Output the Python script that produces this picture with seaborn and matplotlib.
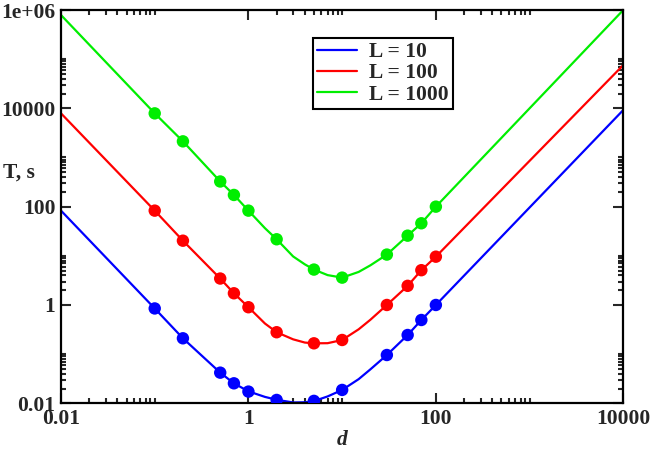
import numpy as np
import pandas as pd
import seaborn as sns
import matplotlib.pyplot as plt
from matplotlib.ticker import FixedLocator, NullFormatter
from matplotlib.lines import Line2D

# smooth curves
d_line = [0.01, 0.1, 0.2, 0.5, 0.7, 1, 1.5, 2, 3, 4, 5, 7, 10, 15, 20, 30, 50, 70, 100, 10000]
T_line_10 = [83, 0.85, 0.21, 0.042, 0.0255, 0.0175, 0.0135, 0.0118, 0.0104, 0.0105, 0.0111, 0.0138,
             0.0187, 0.031, 0.049, 0.096, 0.245, 0.495, 1.0, 9250]
T_line_100 = [7900, 83, 20.3, 3.45, 1.73, 0.9, 0.42, 0.279, 0.2, 0.172, 0.166, 0.167,
              0.194, 0.32, 0.5, 1.0, 2.45, 5.1, 9.6, 76000]
T_line_1000 = [790000, 7900, 2130, 325, 173, 83, 36.5, 21.7, 9.7, 6.7, 5.25, 4.05,
               3.6, 4.7, 6.4, 10.6, 25.7, 45.9, 100, 1000000]

# computed points (markers)
d_pts = [0.1, 0.2, 0.5, 0.7, 1, 2, 5, 10, 30, 50, 70, 100]
T_pts_10 = [0.85, 0.21, 0.042, 0.0255, 0.0173, 0.0117, 0.0112, 0.0187, 0.096, 0.245, 0.495, 1.0]
T_pts_100 = [83, 20.3, 3.45, 1.73, 0.9, 0.279, 0.166, 0.194, 1.0, 2.45, 5.1, 9.6]
T_pts_1000 = [7900, 2130, 325, 173, 83, 21.7, 5.25, 3.6, 10.6, 25.7, 45.9, 100]

labels = ['L = 10', 'L = 100', 'L = 1000']
colors = ['#0000ff', '#ff0000', '#00ee00']

lines = pd.DataFrame({
    'd': d_line * 3,
    'T': T_line_10 + T_line_100 + T_line_1000,
    'L': [labels[0]] * len(d_line) + [labels[1]] * len(d_line) + [labels[2]] * len(d_line),
})
pts = pd.DataFrame({
    'd': d_pts * 3,
    'T': T_pts_10 + T_pts_100 + T_pts_1000,
    'L': [labels[0]] * len(d_pts) + [labels[1]] * len(d_pts) + [labels[2]] * len(d_pts),
})

sns.set_style('ticks')
plt.rcParams['font.family'] = ['Liberation Serif', 'DejaVu Serif']
plt.rcParams['font.weight'] = 'bold'

fig, ax = plt.subplots(figsize=(6.5, 4.49), dpi=100)
fig.subplots_adjust(left=61/650, right=623.3/650, bottom=1-403.3/449, top=1-10/449)
ax.set_xscale('log')
ax.set_yscale('log')

pal = dict(zip(labels, colors))
sns.lineplot(data=lines, x='d', y='T', hue='L', palette=pal, estimator=None,
             sort=False, linewidth=1.6, legend=False, ax=ax)
sns.scatterplot(data=pts, x='d', y='T', hue='L', palette=pal, s=80,
                edgecolor='none', legend=False, ax=ax, zorder=3)

ax.set_xlim(0.01, 10000)
ax.set_ylim(0.01, 1e6)

xmaj = [0.01, 1, 100, 10000]
ymaj = [0.01, 1, 100, 10000, 1e6]
ax.xaxis.set_major_locator(FixedLocator(xmaj))
ax.yaxis.set_major_locator(FixedLocator(ymaj))
ax.set_xticklabels(['0.01', '1', '100', '10000'])
ax.set_yticklabels(['0.01', '1', '100', '10000', '1e+06'])
ax.xaxis.set_minor_locator(FixedLocator([m * 10.0**e for e in (-2, 0, 2) for m in range(2, 11)]))
ax.yaxis.set_minor_locator(FixedLocator([m * 10.0**e for e in (-2, 0, 2, 4) for m in range(2, 11)]))
ax.xaxis.set_minor_formatter(NullFormatter())
ax.yaxis.set_minor_formatter(NullFormatter())

ax.tick_params(which='both', direction='in', top=True, right=True, labelsize=15.5, width=1.5)
ax.tick_params(which='major', length=7.5, pad=4)
ax.tick_params(which='minor', length=3.8)
for sp in ax.spines.values():
    sp.set_linewidth(1.6)
    sp.set_color('black')

ax.set_xlabel('')
ax.set_ylabel('')
fig.text(3/650, 1-173/449, 'T, s', fontsize=15.5, fontweight='bold', ha='left', va='center')
fig.text(342/650, 1-440/449, 'd', fontsize=15.5, fontweight='bold', style='italic',
         ha='center', va='center')

handles = [Line2D([0], [0], color=c, lw=1.6) for c in colors]
leg = ax.legend(handles, labels, loc='upper left', bbox_to_anchor=(0.448, 0.929),
                fontsize=15.5, frameon=True, fancybox=False, framealpha=1,
                edgecolor='black', handlelength=1.85, labelspacing=0.05,
                borderpad=0.2, handletextpad=0.55, borderaxespad=0)
leg.get_frame().set_linewidth(1.5)

fig.savefig('out.png', dpi=100)
